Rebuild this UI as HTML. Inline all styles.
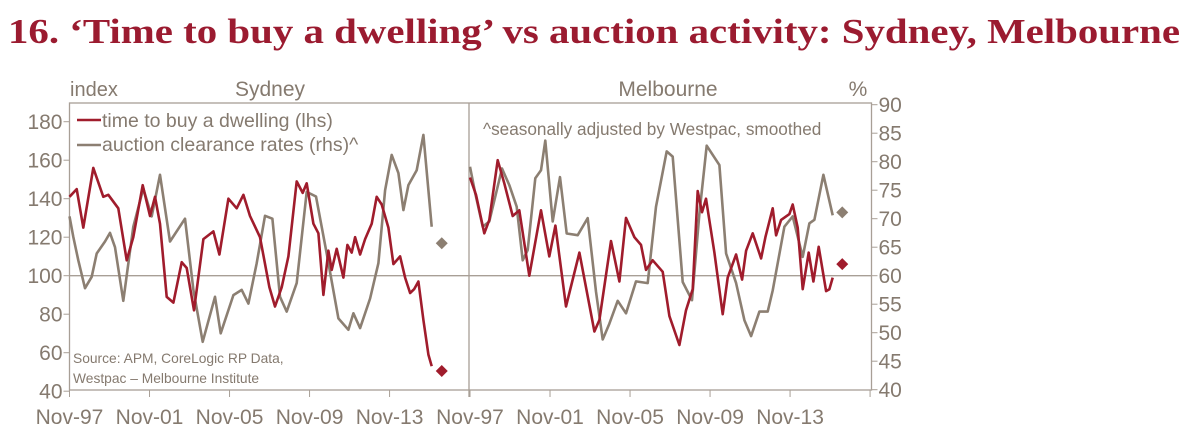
<!DOCTYPE html>
<html><head><meta charset="utf-8"><style>
body{margin:0;background:#fff;width:1192px;height:440px;overflow:hidden}
svg text{font-family:"Liberation Sans",sans-serif;fill:#857a6f}
</style></head><body>
<svg id="chart" width="1192" height="440" viewBox="0 0 1192 440" xmlns="http://www.w3.org/2000/svg">
<text x="8" y="43" style="font-family:'Liberation Serif',serif;font-weight:bold;font-size:35px;fill:#9b1b30" textLength="1172" lengthAdjust="spacingAndGlyphs">16. ‘Time to buy a dwelling’ vs auction activity: Sydney, Melbourne</text>
<g id="axes"></g>
<g id="series"></g>
<text x="70" y="96" font-size="20">index</text>
<text x="270" y="96" font-size="21" text-anchor="middle">Sydney</text>
<text x="668" y="96" font-size="21" text-anchor="middle">Melbourne</text>
<text x="858" y="96" font-size="21" text-anchor="middle">%</text>
<line x1="77" y1="120" x2="101" y2="120" stroke="#a01c2c" stroke-width="2.5"/>
<text x="102" y="127" font-size="19.5">time to buy a dwelling (lhs)</text>
<line x1="77" y1="145" x2="101" y2="145" stroke="#8c7f72" stroke-width="2.5"/>
<text x="102" y="151" font-size="19.5">auction clearance rates (rhs)^</text>
<text x="483" y="135" font-size="17.2">^seasonally adjusted by Westpac, smoothed</text>
<text x="73" y="363" font-size="13.8">Source: APM, CoreLogic RP Data,</text>
<text x="73" y="383" font-size="13.8">Westpac – Melbourne Institute</text>
</svg>
<script>
const xTickLabels=["Nov-97","Nov-01","Nov-05","Nov-09","Nov-13"];
const leftTicks=[40,60,80,100,120,140,160,180];
const rightTicks=[40,45,50,55,60,65,70,75,80,85,90];
// months since Nov-97
const sydTimeM=[0,4.3,8.3,14.3,20.3,23.3,29.3,34.3,38.3,43.9,48.3,51.3,54.3,58.3,62.3,67.3,70.3,74.7,80.3,86.3,89.9,95.3,100.3,104.3,108.3,114.3,119.9,123.3,127.3,131.3,136.3,139.9,142.3,146.3,149.3,152.3,155.3,157.3,160.3,164.3,166.7,169.3,171.3,174.3,177.3,181.3,184.3,187.3,191.3,194.3,198.3,201.3,204.3,206.7,209.3,212.3,215.3,217.3];
const sydTimeV=[141,145,125,156,141,142,135,108,120,147,131,141,127,89,86,107,104,82,119,123,111,140,135,142,131,120,94,84,94,110,149,143,148,127,122,90,113,103,114,99,116,112,120,111,119,127,141,137,125,106,110,99,91,93,97,77,59,53];
const sydAucM=[0,2.3,5.3,9.3,13.3,16.3,21.3,24.3,27.3,32.3,38.3,44.3,49.3,54.3,60.3,69.3,74.3,79.9,87.3,90.7,98.3,103.3,107.3,112.3,117.3,121.7,126.3,130.3,136.3,142.3,147.9,154.3,161.3,167.3,170.3,174.3,180.3,185.3,189.3,193.3,197.3,200.3,203.3,208.3,212.3,217.3];
const sydAucV=[70.4,66.8,62.7,57.8,59.8,63.9,66,67.5,65,55.6,68.6,75.3,70.4,77.7,66,70,57.5,48.4,56.3,49.9,56.6,57.5,55.1,62.2,70.5,70,56.3,53.7,58.7,74.7,73.9,63.9,52.5,50.5,53.4,50.8,56,62.2,75,81.2,78,71.5,75.9,78.5,84.7,68.6];
const melTimeM=[0,3.6,8.6,11.6,16.6,20.6,25.6,29.6,35.6,42.6,47.6,51.2,57.6,65.6,74.6,77.6,84.6,89.6,93.6,98.6,102.6,105.6,109.6,115.6,119.6,125.6,129.6,133.6,136.6,139.2,141.6,146.6,151.6,154.6,159.6,163.2,165.6,169.6,174.6,177.2,181.6,183.6,186.6,191.6,193.6,196.6,199.6,203.2,206,209.2,213.6,215.6,217.6];
const melTimeV=[151,142,122,129,160,148,131,134,100,134,110,126,84,112,71,77,118,97,130,120,116,103,108,102,79,64,82,93,144,133,140,112,80,99,111,98,113,122,109,120,135,121,129,132,137,125,93,112,97,115,92,93,99];
const melAucM=[0,3.2,7.6,11.6,19.2,23.6,28,31.6,34.6,39.2,42.6,45.2,49.6,54,58,64.6,70.6,75.6,79.6,83.6,88.6,93.6,99.6,106.6,111.6,118,121.6,127.6,133.2,137.6,142,149.6,153.6,159.6,164.6,168.6,173.6,178.6,181.6,188.6,193.6,199.6,203.6,206.6,212,217.6];
const melAucV=[79.1,74.4,68.6,69.5,78.8,75.9,72.1,62.7,64.5,77.1,78.5,83.7,69.5,77.3,67.4,67.1,70.1,57.2,48.8,51.6,55.6,53.4,59,58.7,72.1,81.8,80.9,58.9,55.7,70.9,82.8,79.4,63.9,58.7,52.2,49.4,53.7,53.7,57.4,68.6,70.4,63.3,69.2,69.8,77.7,70.6];
const diamondM=223.3;
const sydDiamond=[50.5,65.7];
const melDiamond=[106,71.1];

const NS="http://www.w3.org/2000/svg";
const TOP=103,BOT=390,X0=69.5,XM=470,XR=871.5;
const yL=v=>275.7-(v-100)*1.925;
const yR=v=>275.7-(v-60)*5.7;
const xS=m=>X0+m*1.667;
const xM=m=>XM+m*1.667;
const ax=document.getElementById('axes'),se=document.getElementById('series');
const GR="#8c7f72",RD="#a01c2c";
function mk(tag,attrs,parent){const e=document.createElementNS(NS,tag);for(const k in attrs)e.setAttribute(k,attrs[k]);parent.appendChild(e);return e;}
let e;
e=mk('rect',{x:X0,y:TOP,width:XR-X0,height:BOT-TOP,fill:'none',stroke:'#a89f96','stroke-width':1.3},ax);


e=mk('line',{x1:XM-1,y1:TOP,x2:XM-1,y2:BOT+7,stroke:'#a89f96','stroke-width':1.3},ax);


e=mk('line',{x1:X0,y1:yL(100),x2:XR,y2:yL(100),stroke:'#a89f96','stroke-width':1.3},ax);


leftTicks.forEach(v=>{
  mk('line',{x1:X0-6,y1:yL(v),x2:X0,y2:yL(v),stroke:'#a89f96'},ax);
  e=mk('text',{x:X0-7,y:yL(v)+7.5,'font-size':21,'text-anchor':'end'},ax);e.textContent=v;
  
  
});
rightTicks.forEach(v=>{
  mk('line',{x1:XR,y1:yR(v),x2:XR+6,y2:yR(v),stroke:'#a89f96'},ax);
  e=mk('text',{x:XR+7,y:yR(v)+7.5,'font-size':21},ax);e.textContent=v;
  
  
});
[xS,xM].forEach(f=>{
  for(let i=0;i<=5;i++){mk('line',{x1:f(i*48),y1:BOT,x2:f(i*48),y2:BOT+7,stroke:'#a89f96'},ax);}
  xTickLabels.forEach((t,i)=>{
    e=mk('text',{x:f(i*48),y:424,'font-size':21,'text-anchor':'middle'},ax);e.textContent=t;
    
    
  });
});
function line(ms,vs,fx,fy,col,name){
  const d=ms.map((m,i)=>(i?'L':'M')+fx(m).toFixed(1)+','+fy(vs[i]).toFixed(1)).join('');
  const p=mk('path',{d:d,fill:'none',stroke:col,'stroke-width':2.6,'stroke-linejoin':'round'},se);
  
  
}
function dia(x,y,col,name){
  const p=mk('path',{d:`M${x},${y-6}L${x+6},${y}L${x},${y+6}L${x-6},${y}Z`,fill:col},se);
  
  
}
line(sydAucM,sydAucV,xS,yR,GR,'sydney-auction-line');
line(sydTimeM,sydTimeV,xS,yL,RD,'sydney-time-to-buy-line');
line(melAucM,melAucV,xM,yR,GR,'melbourne-auction-line');
line(melTimeM,melTimeV,xM,yL,RD,'melbourne-time-to-buy-line');
dia(xS(diamondM),yL(sydDiamond[0]),RD,'sydney-time-to-buy-latest');
dia(xS(diamondM),yR(sydDiamond[1]),GR,'sydney-auction-latest');
dia(xM(diamondM),yL(melDiamond[0]),RD,'melbourne-time-to-buy-latest');
dia(xM(diamondM),yR(melDiamond[1]),GR,'melbourne-auction-latest');
</script>
</body></html>
